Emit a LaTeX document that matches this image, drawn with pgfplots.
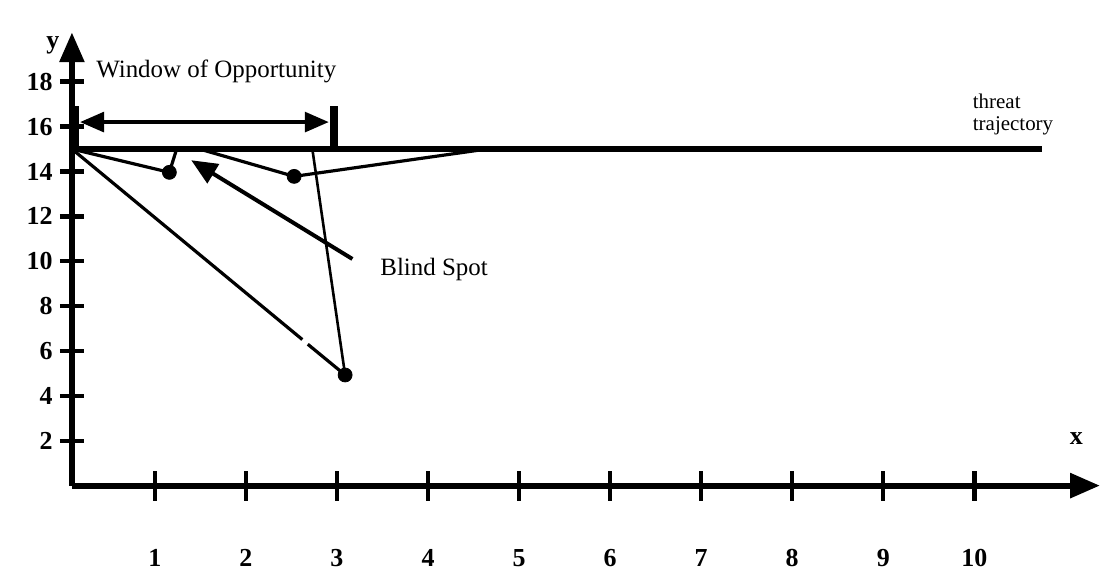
\documentclass[border=0pt]{standalone}
\usepackage{fontspec}
\setmainfont{Liberation Serif}
\usepackage{pgfplots}
\pgfplotsset{compat=1.18}
\usetikzlibrary{arrows.meta}
\begin{document}
\begin{tikzpicture}
\begin{axis}[
  x=45.65pt, y=11.25pt,
  xmin=0.09, xmax=11.38, ymin=0, ymax=20.2,
  axis x line=bottom, axis y line=left,
  axis line style={line width=3pt, -{Triangle[length=15pt,width=12pt]}},
  clip=false,
  xtick={1,...,10}, ytick={2,4,...,18},
  tick style={black, line width=2.2pt},
  xtick style={/pgfplots/major tick length=15pt},
  ytick style={/pgfplots/major tick length=12pt},
  x tick label style={anchor=center, yshift=-34pt, font=\fontsize{13}{14}\selectfont\bfseries},
  y tick label style={font=\fontsize{13}{14}\selectfont\bfseries, xshift=-4pt},
  /pgf/number format/assume math mode=true,
  every axis plot/.append style={black},
]
\path (axis cs:-0.70,-3.64) rectangle (axis cs:11.38,21.64);
% threat trajectory
\addplot[line width=2.6pt] coordinates {(0.09,15) (10.74,15)};
% first excursion
\addplot[line width=1.6pt] coordinates {(0.09,15) (1.16,13.96) (1.24,15)};
% second excursion
\addplot[line width=1.6pt] coordinates {(1.49,15) (2.53,13.78) (4.65,15)};
% long dive with gap
\addplot[line width=1.6pt] coordinates {(0.09,15) (2.62,6.51)};
\addplot[line width=1.6pt] coordinates {(2.68,6.30) (3.09,4.93)};
% steep return
\addplot[line width=1.3pt] coordinates {(3.09,4.93) (2.73,15)};
% dots
\addplot[only marks, mark=*, mark size=3.5pt] coordinates {(1.16,13.96) (2.53,13.78) (3.09,4.93)};
% blind spot arrow
\addplot[line width=2pt, -{Triangle[length=13pt,width=11pt]}] coordinates {(3.17,10.1) (1.40,14.5)};
% window of opportunity
\addplot[line width=1.6pt, {Triangle[length=12pt,width=10pt]}-{Triangle[length=12pt,width=10pt]}] coordinates {(0.18,16.2) (2.91,16.2)};
\addplot[line width=3pt] coordinates {(0.13,15) (0.13,16.9)};
\addplot[line width=4pt] coordinates {(2.97,15) (2.97,16.9)};
% texts
\node[anchor=west, font=\fontsize{12.5}{14}\selectfont] at (axis cs:0.28,18.44) {Window of Opportunity};
\node[anchor=west, align=left, font=\fontsize{10.5}{11}\selectfont, inner sep=0pt] at (axis cs:9.98,16.55) {threat\\trajectory};
\node[anchor=west, font=\fontsize{12.5}{14}\selectfont] at (axis cs:3.40,9.64) {Blind Spot};
\node[font=\fontsize{13}{14}\selectfont\bfseries] at (axis cs:-0.12,19.6) {y};
\node[font=\fontsize{13}{14}\selectfont\bfseries] at (axis cs:11.12,2.1) {x};
\end{axis}
\end{tikzpicture}
\end{document}
